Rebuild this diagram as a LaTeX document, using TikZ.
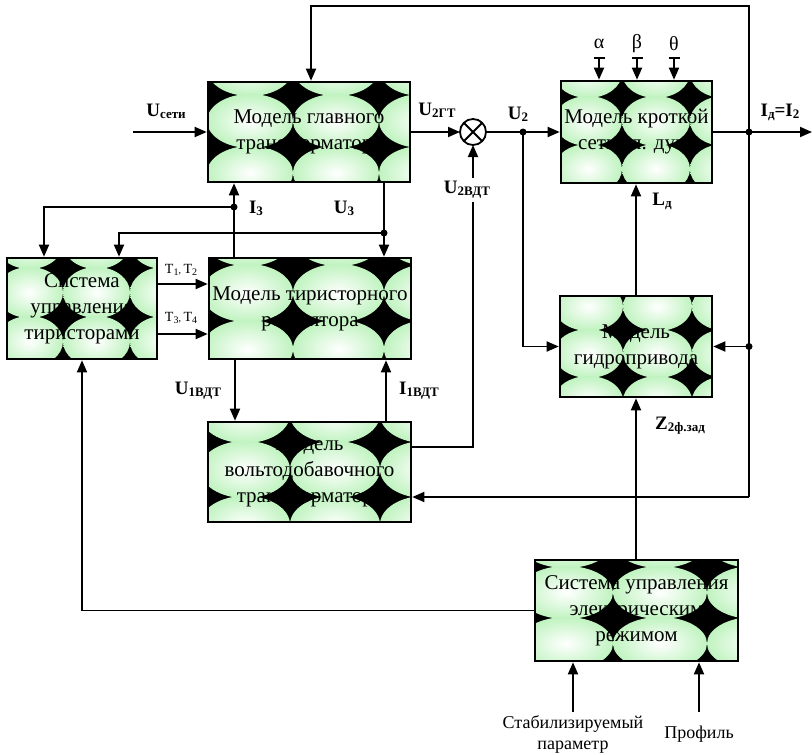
\documentclass[tikz,border=0pt]{standalone}
\usepackage{fontspec}
\setmainfont{Liberation Serif}
\usetikzlibrary{arrows.meta,calc}
\definecolor{gr}{RGB}{192,243,192}
\newcommand\patfill[8]{%
 \begin{scope}
 \clip (#1,#2) rectangle (#3,#4);
 \fill[black] (#1,#2) rectangle (#3,#4);
 \foreach \j in {-1,...,2}{\foreach \i in {-1,...,3}{
  \shade[inner color=white,outer color=gr] ({#5+(\i+0.5)*#6},{#7+(\j+0.5)*#8}) ellipse [x radius={#6/2}, y radius={0.52*#8}];
 }}
 \end{scope}}
\newcommand\lb[2]{{\bfseries\fontsize{19}{19}\selectfont #1\raisebox{-2pt}{\fontsize{13}{13}\selectfont #2}}}
\newcommand\thy[1]{{\fontsize{14}{14}\selectfont Т\raisebox{-1.5pt}{\fontsize{10}{10}\selectfont #1}}}
\tikzset{
 box/.style={draw, line width=2.6pt, align=center, inner sep=0pt, font=\fontsize{21}{26}\selectfont},
 ln/.style={line width=1.8pt},
 arr/.style={ln, -{Triangle[length=12pt,width=10pt]}},
 barr/.style={ln, {Bar[width=11pt]}-{Triangle[length=12pt,width=10pt]}},
 dot/.style={circle, fill, inner sep=0pt, minimum size=7pt},
 lab/.style={inner sep=1pt}
}
\begin{document}
\begin{tikzpicture}[x=1pt,y=-1pt]
\useasboundingbox (0,0) rectangle (812,755);
% boxes
\patfill{208}{82}{410}{182}{207}{86}{95}{52}
\node[box, minimum width=202pt, minimum height=100pt] (gt) at (309,132) {Модель главного\\трансформатора};
\patfill{7}{258}{157}{359}{-4}{67}{268}{49}
\node[box, minimum width=150pt, minimum height=101pt] (sut) at (82,308.5) {Система\\управления\\тиристорами};
\patfill{209}{258}{411}{359}{202}{91}{265}{56}
\node[box, minimum width=202pt, minimum height=101pt] (tr) at (310,308.5) {Модель тиристорного\\регулятора};
\patfill{208}{422}{411}{522}{200}{90}{442}{55}
\node[box, minimum width=203pt, minimum height=100pt] (vdt) at (309.5,472) {Модель\\вольтодобавочного\\трансформатора};
\patfill{561}{81}{712}{183}{554}{68}{97}{48}
\node[box, minimum width=151pt, minimum height=102pt] (ks) at (636.5,132) {Модель кроткой\\сети эл. дуги};
\patfill{560}{296}{712}{397}{554}{69}{330}{47}
\node[box, minimum width=152pt, minimum height=101pt] (gp) at (636,346.5) {Модель\\гидропривода};
\patfill{535}{560}{738}{661}{519}{94}{567}{51}
\node[box, minimum width=203pt, minimum height=101pt] (suer) at (636.5,610.5) {Система управления\\электрическим\\режимом};
% summing junction
\node[draw, circle, line width=1.8pt, minimum size=26pt, inner sep=0pt, outer sep=0pt] (sum) at (473,132) {};
\draw[ln] (sum.north west) -- (sum.south east) (sum.north east) -- (sum.south west);
% coordinates
\coordinate (uin) at (133,132);
\coordinate (out) at (812,132);
\coordinate (ctop) at (749,6);
\coordinate (cbot) at (749,497);
\coordinate (i3) at (234,207);
\coordinate (u3) at (384,233);
\coordinate (t12) at (180,284);
\coordinate (t34) at (180,334);
\coordinate (u1) at (235,390);
\coordinate (i1) at (386,390);
\coordinate (c447) at (473,447);
\coordinate (al) at (599,57);
\coordinate (be) at (637,57);
\coordinate (th) at (674,57);
\coordinate (st) at (573,712);
\coordinate (pr) at (699,712);
\coordinate (u2) at (523,132);
\coordinate (gd) at (749,346.5);
% connectors
\draw[arr] (uin) -- (gt.west);
\draw[arr] (gt.east) -- (sum.west);
\draw[arr] (sum.east) -- (ks.west);
\draw[arr] (u2) |- (gp.west);
\draw[arr] (ks.east) -- (out);
\draw[arr] (cbot) -- (ctop) -| ([xshift=2pt]gt.north);
\draw[arr] (cbot) -- (vdt.east |- cbot);
\draw[arr] (gd) -- (gp.east);
\draw[arr] (gp.north) -- (ks.south -| gp.north);
\draw[arr] (suer.north -| gp.south) -- (gp.south);
\draw[barr] (al) -- (ks.north -| al);
\draw[barr] (be) -- (ks.north -| be);
\draw[barr] (th) -- (ks.north -| th);
\draw[arr] (tr.north -| i3) -- (gt.south -| i3);
\draw[arr] (i3) -| ([xshift=-38pt]sut.north);
\draw[arr] (gt.south -| u3) -- (tr.north -| u3);
\draw[arr] (u3) -| ([xshift=37pt]sut.north);
\draw[arr] (sut.east |- t12) -- (tr.west |- t12);
\draw[arr] (sut.east |- t34) -- (tr.west |- t34);
\draw[arr] (tr.south -| u1) -- (vdt.north -| u1);
\draw[arr] (vdt.north -| i1) -- (tr.south -| i1);
\draw[arr] (vdt.east |- c447) -| (sum.south);
\draw[arr] (suer.west) -| (sut.south);
\draw[arr] (st) -- (suer.south -| st);
\draw[arr] (pr) -- (suer.south -| pr);
% dots
\node[dot] (du2) at (u2) {};
\node[dot] (dtap) at (749,132) {};
\node[dot] (dgd) at (gd) {};
\node[dot] (di3) at (i3) {};
\node[dot] (du3) at (u3) {};
% labels
\node[lab] (lu) at (166,111) {\lb{U}{сети}};
\node[lab] (l2gt) at (437,110) {\lb{U}{2ГТ}};
\node[lab] (l2) at (518,114) {\lb{U}{2}};
\node[lab] (lid) at (780,112) {\lb{I}{д}\lb{=I}{2}};
\node[lab, fill=white, inner sep=3pt] (l2v) at (467,190) {\lb{U}{2ВДТ}};
\node[lab] (li3) at (256,208) {\lb{I}{3}};
\node[lab] (lu3) at (344,208) {\lb{U}{3}};
\node[lab] (lt12) at (181,270) {\thy{1}, \thy{2}};
\node[lab] (lt34) at (181,318) {\thy{3}, \thy{4}};
\node[lab] (lu1) at (198,391) {\lb{U}{1ВДТ}};
\node[lab] (li1) at (419,391) {\lb{I}{1ВДТ}};
\node[lab] (lld) at (662,201) {\lb{L}{д}};
\node[lab] (lz) at (680,426) {\lb{Z}{2ф.зад}};
\node[lab, font=\fontsize{20}{20}\selectfont] (lal) at (599,44) {α};
\node[lab, font=\fontsize{20}{20}\selectfont] (lbe) at (637,44) {β};
\node[lab, font=\fontsize{20}{20}\selectfont] (lth) at (674,44) {θ};
\node[lab, align=center, font=\fontsize{18}{21}\selectfont] (lst) at (573,734) {Стабилизируемый\\параметр};
\node[lab, font=\fontsize{18}{21}\selectfont] (lpr) at (699,734) {Профиль};
\end{tikzpicture}
\end{document}
